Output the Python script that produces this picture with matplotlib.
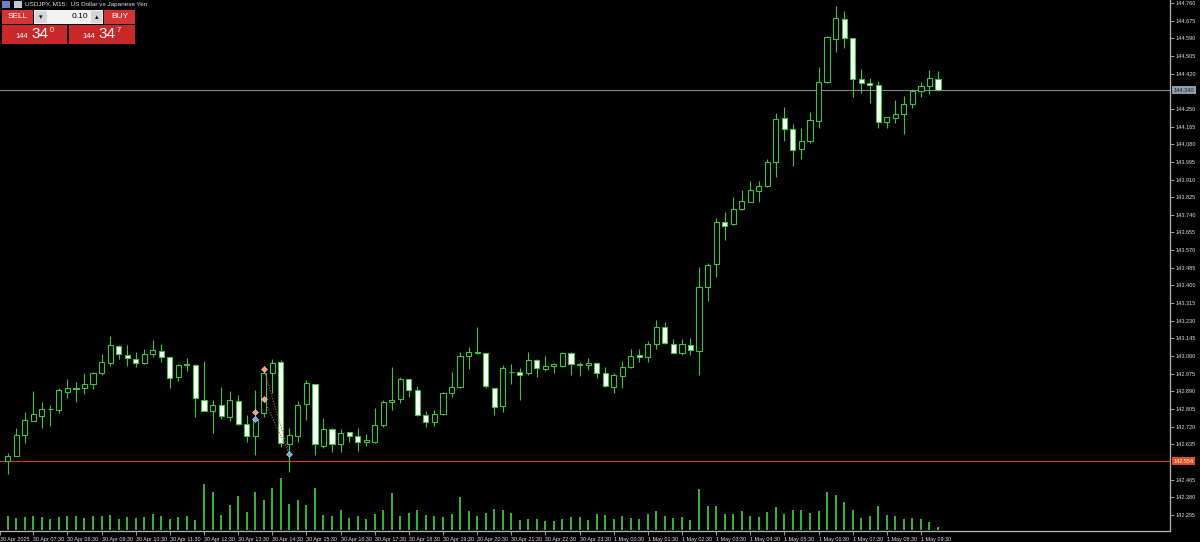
import matplotlib
matplotlib.use('Agg')
import matplotlib.pyplot as plt
from matplotlib.patches import Rectangle
import matplotlib.transforms as mtransforms

W, H = 1200, 542

# USDJPY M15 candles, 30 Apr 06:45 .. 1 May 10:00
opens = [142.555, 142.580, 142.680, 142.749, 142.773, 142.804, 142.800, 142.888, 142.903, 142.905,
         142.924, 142.977, 143.028, 143.110, 143.065, 143.046, 143.025, 143.070, 143.086, 143.054,
         142.958, 143.020, 143.018, 142.848, 142.796, 142.823, 142.768, 142.844, 142.731, 142.677,
         142.787, 142.977, 143.030, 142.637, 142.677, 142.828, 142.924, 142.629, 142.707, 142.635,
         142.693, 142.677, 142.645, 142.648, 142.728, 142.837, 142.851, 142.949, 142.897, 142.776,
         142.744, 142.780, 142.881, 142.910, 143.062, 143.073, 143.073, 142.905, 142.820, 142.982,
         142.985, 142.977, 143.041, 142.998, 143.014, 143.014, 143.073, 143.020, 143.018, 143.025,
         142.977, 142.913, 142.966, 143.006, 143.064, 143.054, 143.117, 143.200, 143.118, 143.073,
         143.113, 143.086, 143.394, 143.502, 143.707, 143.694, 143.767, 143.803, 143.856, 143.879,
         143.996, 144.205, 144.152, 144.056, 144.096, 144.193, 144.378, 144.587, 144.683, 144.590,
         144.394, 144.373, 144.365, 144.189, 144.205, 144.224, 144.272, 144.336, 144.360, 144.394]
highs = [142.595, 142.714, 142.791, 142.892, 142.837, 142.824, 142.906, 142.950, 142.934, 142.977,
         142.985, 143.070, 143.158, 143.113, 143.113, 143.078, 143.093, 143.137, 143.118, 143.057,
         143.021, 143.049, 143.020, 143.038, 142.848, 142.913, 142.894, 142.873, 142.776, 142.897,
         143.001, 143.045, 143.041, 142.712, 142.844, 142.945, 142.926, 142.763, 142.712, 142.707,
         142.695, 142.715, 142.683, 142.811, 142.848, 143.009, 142.958, 142.951, 142.916, 142.797,
         142.800, 142.886, 142.982, 143.081, 143.105, 143.200, 143.075, 142.907, 143.017, 143.022,
         143.004, 143.081, 143.045, 143.060, 143.025, 143.078, 143.078, 143.033, 143.049, 143.028,
         143.006, 142.977, 143.038, 143.094, 143.093, 143.133, 143.234, 143.224, 143.141, 143.141,
         143.146, 143.488, 143.507, 143.723, 143.752, 143.827, 143.860, 143.903, 143.903, 144.007,
         144.229, 144.258, 144.177, 144.160, 144.237, 144.453, 144.601, 144.746, 144.723, 144.592,
         144.441, 144.397, 144.385, 144.213, 144.293, 144.312, 144.344, 144.381, 144.437, 144.433]
lows = [142.492, 142.578, 142.643, 142.747, 142.712, 142.723, 142.787, 142.860, 142.840, 142.876,
        142.901, 142.969, 143.012, 143.045, 143.012, 143.006, 143.023, 143.057, 143.033, 142.905,
        142.941, 142.989, 142.768, 142.794, 142.688, 142.755, 142.747, 142.728, 142.648, 142.584,
        142.768, 142.881, 142.624, 142.503, 142.648, 142.752, 142.584, 142.616, 142.600, 142.600,
        142.648, 142.604, 142.627, 142.640, 142.717, 142.799, 142.832, 142.864, 142.771, 142.718,
        142.723, 142.776, 142.864, 142.905, 142.998, 143.071, 142.905, 142.776, 142.793, 142.924,
        142.848, 142.969, 142.961, 142.988, 142.980, 143.006, 142.969, 142.964, 142.993, 142.953,
        142.913, 142.881, 142.905, 143.004, 143.033, 143.033, 143.094, 143.118, 143.073, 143.065,
        143.065, 142.969, 143.325, 143.442, 143.619, 143.691, 143.763, 143.801, 143.803, 143.876,
        143.924, 144.096, 143.977, 144.009, 144.087, 144.157, 144.373, 144.526, 144.542, 144.309,
        144.325, 144.277, 144.160, 144.157, 144.184, 144.128, 144.256, 144.309, 144.320, 144.338]
closes = [142.580, 142.680, 142.752, 142.780, 142.804, 142.806, 142.897, 142.905, 142.908, 142.926,
          142.980, 143.030, 143.113, 143.069, 143.049, 143.025, 143.070, 143.089, 143.057, 142.956,
          143.019, 143.019, 142.857, 142.796, 142.823, 142.771, 142.848, 142.733, 142.675, 142.752,
          142.980, 143.028, 142.640, 142.680, 142.824, 142.929, 142.635, 142.707, 142.635, 142.691,
          142.677, 142.645, 142.654, 142.727, 142.837, 142.848, 142.949, 142.897, 142.776, 142.741,
          142.780, 142.881, 142.913, 143.060, 143.078, 143.078, 142.916, 142.816, 143.001, 142.982,
          142.969, 143.041, 143.001, 143.012, 143.020, 143.073, 143.020, 143.016, 143.025, 142.977,
          142.916, 142.969, 143.006, 143.060, 143.057, 143.117, 143.200, 143.122, 143.076, 143.117,
          143.089, 143.394, 143.499, 143.707, 143.688, 143.767, 143.807, 143.860, 143.880, 143.996,
          144.200, 144.153, 144.052, 144.097, 144.197, 144.378, 144.595, 144.686, 144.593, 144.394,
          144.373, 144.365, 144.189, 144.210, 144.224, 144.272, 144.336, 144.360, 144.397, 144.340]
volumes = [560, 480, 520, 560, 520, 440, 520, 560, 560, 480,
           560, 560, 600, 440, 520, 480, 520, 640, 560, 440,
           520, 560, 400, 1840, 1520, 600, 1000, 1360, 720, 1520,
           1200, 1680, 2080, 1040, 1200, 1000, 1680, 600, 560, 800,
           480, 560, 440, 640, 800, 1480, 560, 680, 800, 600,
           560, 520, 640, 1320, 760, 560, 680, 840, 800, 680,
           400, 440, 440, 360, 360, 440, 520, 520, 400, 640,
           600, 440, 560, 480, 440, 640, 760, 560, 480, 520,
           400, 1640, 960, 960, 640, 640, 760, 560, 520, 720,
           920, 640, 800, 800, 680, 760, 1520, 1400, 1120, 800,
           480, 560, 960, 600, 560, 440, 480, 440, 320, 120]

hour_labels = ['30 Apr 07:30', '30 Apr 08:30', '30 Apr 09:30', '30 Apr 10:30', '30 Apr 11:30',
               '30 Apr 12:30', '30 Apr 13:30', '30 Apr 14:30', '30 Apr 15:30', '30 Apr 16:30',
               '30 Apr 17:30', '30 Apr 18:30', '30 Apr 19:30', '30 Apr 20:30', '30 Apr 21:30',
               '30 Apr 22:30', '30 Apr 23:30', '1 May 00:30', '1 May 01:30', '1 May 02:30',
               '1 May 03:30', '1 May 04:30', '1 May 05:30', '1 May 06:30', '1 May 07:30',
               '1 May 08:30', '1 May 09:30']
first_label = '30 Apr 2025'
price_ticks = [142.295, 142.380, 142.465, 142.635, 142.720, 142.805, 142.890, 142.975,
               143.060, 143.145, 143.230, 143.315, 143.400, 143.485, 143.570, 143.655,
               143.740, 143.825, 143.910, 143.995, 144.080, 144.165, 144.250, 144.420,
               144.505, 144.590, 144.675, 144.760]
bid_price = 144.340
order_price = 142.554

# trade arrows (bar index, price)
sell_marks = [(30, 142.998), (30, 142.851), (29, 142.792)]
buy_marks = [(29, 142.756), (33, 142.589)]

GREEN = '#3fc43f'
AXC = '#b8b8b8'
TXT = '#e0e0e0'
FONT = 'Liberation Sans'

fig = plt.figure(figsize=(W / 100, H / 100), dpi=100, facecolor='black')
ax = fig.add_axes([0, 11 / H, 1170 / W, 531 / H], facecolor='black')

n = len(opens)
xs = list(range(n))
ax.set_xlim(-0.9, 136.18)
ax.set_ylim(142.2177, 144.7745)

# wicks then bodies
ax.vlines(xs, lows, highs, color=GREEN, linewidth=0.8, zorder=2)
for i in xs:
    o, c = opens[i], closes[i]
    bull = c >= o
    lo = min(o, c)
    h = max(abs(c - o), 0.0015)
    ax.add_patch(Rectangle((i - 0.3, lo), 0.6, h,
                           facecolor='black' if bull else 'white',
                           edgecolor=GREEN, linewidth=0.8, zorder=3))

# price lines
ax.axhline(bid_price, color='#7a8a9a', linewidth=0.8, zorder=1)
ax.axhline(order_price, color='#d8401c', linewidth=0.8, zorder=1)

# trade history
for (i1, p1) in sell_marks[:2]:
    ax.plot([i1, buy_marks[1][0]], [p1, buy_marks[1][1]], linestyle=(0, (1, 1.5)),
            color='#c0603a', linewidth=0.8, zorder=4)
for i, p in sell_marks:
    ax.plot(i, p, marker='D', markersize=3, color='#f0a080', markeredgecolor='#ffd0c0',
            markeredgewidth=0.4, zorder=5)
for i, p in buy_marks:
    ax.plot(i, p, marker='D', markersize=3, color='#70a8e0', markeredgecolor='#c8e0ff',
            markeredgewidth=0.4, zorder=5)

# axes styling
for s in ['left', 'top']:
    ax.spines[s].set_visible(False)
for s in ['right', 'bottom']:
    ax.spines[s].set_color(AXC)
    ax.spines[s].set_linewidth(0.9)

ax.yaxis.tick_right()
ax.set_yticks(price_ticks)
ax.set_yticklabels([f'{p:.3f}' for p in price_ticks])
ax.tick_params(axis='y', colors=AXC, labelcolor=TXT, labelsize=4.0, length=3, width=0.6, pad=1)

tick_pos = [-0.9] + [3 + 4 * k for k in range(len(hour_labels))]
ax.set_xticks(tick_pos)
ax.set_xticklabels([first_label] + hour_labels)
ax.tick_params(axis='x', colors=AXC, labelcolor=TXT, labelsize=3.9, length=3, width=0.6, pad=1.5)
for lab in ax.get_xticklabels():
    lab.set_horizontalalignment('left')
for f in ax.get_xticklabels() + ax.get_yticklabels():
    f.set_fontfamily(FONT)

# price labels on the right scale
ytr = mtransforms.blended_transform_factory(ax.transAxes, ax.transData)
ax.text(1.003, bid_price, f'{bid_price:.3f}', transform=ytr, fontsize=4.0, color='#202020',
        va='center', ha='left', clip_on=False, family=FONT,
        bbox=dict(boxstyle='square,pad=0.3', facecolor='#8c9cac', edgecolor='none'))
ax.text(1.003, order_price, f'{order_price:.3f}', transform=ytr, fontsize=4.0, color='white',
        va='center', ha='left', clip_on=False, family=FONT,
        bbox=dict(boxstyle='square,pad=0.3', facecolor='#e0501e', edgecolor='none'))

# volumes along the bottom
axv = fig.add_axes([0, 12 / H, 1170 / W, 60 / H], facecolor='none')
axv.set_xlim(-0.9, 136.18)
axv.set_ylim(0, max(volumes) * 60 / 52)
axv.vlines(xs, 0, volumes, color=GREEN, linewidth=1.3)
axv.axis('off')


def fx(x):
    return x / W


def fy(y):
    return 1 - y / H


def box(x0, y0, x1, y1, fc, ec='none'):
    fig.add_artist(Rectangle((fx(x0), fy(y1)), fx(x1) - fx(x0), fy(y0) - fy(y1),
                             transform=fig.transFigure, facecolor=fc, edgecolor=ec,
                             linewidth=0.6))


# header
box(2, 1, 10, 8, '#7080c0')
box(14, 1, 22, 8, '#c0c8e0')
fig.text(fx(25), fy(4.5), 'USDJPY, M15:  US Dollar vs Japanese Yen', fontsize=4.6,
         color=TXT, va='center', ha='left', family=FONT)

# one click trading panel
RED = '#d43434'
box(2, 10, 33, 24, RED)
fig.text(fx(17.5), fy(16.5), 'SELL', fontsize=6, color='white', ha='center', va='center', family=FONT)
box(34, 10, 103, 24, '#f2f2f2')
box(35, 11, 47, 23, '#d6d6d6')
box(91, 11, 102, 23, '#d6d6d6')
fig.text(fx(41), fy(17), '\u25be', fontsize=5, color='black', ha='center', va='center')
fig.text(fx(96.5), fy(17), '\u25b4', fontsize=5, color='black', ha='center', va='center')
fig.text(fx(88), fy(17), '0.10', fontsize=6, color='black', ha='right', va='center', family=FONT)
box(104, 10, 135, 24, RED)
fig.text(fx(119.5), fy(16.5), 'BUY', fontsize=6, color='white', ha='center', va='center', family=FONT)
box(2, 25, 67, 44, '#c82828')
box(69, 25, 135, 44, '#c82828')
for x0, last in [(2, '0'), (69, '7')]:
    fig.text(fx(x0 + 13), fy(37), '144', fontsize=5.5, color='white', ha='left', va='center', family=FONT)
    fig.text(fx(x0 + 29), fy(34.5), '34', fontsize=11, color='white', ha='left', va='center', family=FONT)
    fig.text(fx(x0 + 48), fy(30), last, fontsize=5.5, color='white', ha='left', va='center', family=FONT)

fig.savefig('out.png', dpi=100, facecolor='black')
